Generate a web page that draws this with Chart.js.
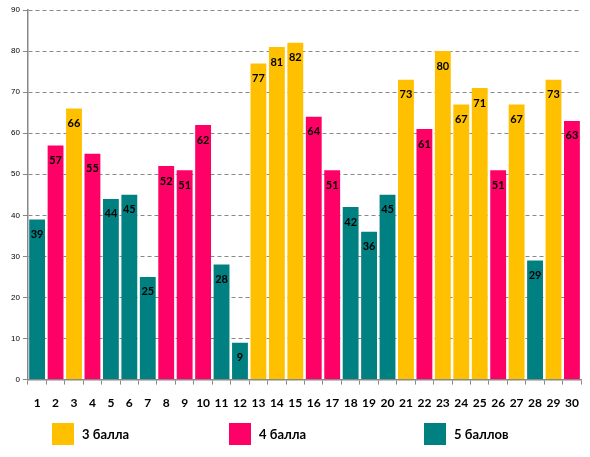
<!DOCTYPE html>
<html>
<head>
<meta charset="utf-8">
<script src="https://cdn.jsdelivr.net/npm/chart.js@4"></script>
<style>
  body { margin: 0; background: #fff; }
  #wrap { position: relative; width: 590px; height: 457px; }
  #legend { position: absolute; top: 423px; left: 0; width: 590px; height: 24px; font-family: Lato, "Liberation Sans", sans-serif; font-weight: bold; font-size: 13px; }
  .item { position: absolute; top: 0; display: flex; align-items: center; }
  .box { width: 22px; height: 22px; margin-right: 8px; }
</style>
</head>
<body>
<div id="wrap">
  <canvas id="chart" width="590" height="457"></canvas>
  <div id="legend"></div>
</div>
<script>
const labels = ['1','2','3','4','5','6','7','8','9','10','11','12','13','14','15',
                '16','17','18','19','20','21','22','23','24','25','26','27','28','29','30'];
const scores = [39, 57, 66, 55, 44, 45, 25, 52, 51, 62, 28, 9, 77, 81, 82,
                64, 51, 42, 36, 45, 73, 61, 80, 67, 71, 51, 67, 29, 73, 63];
// mark received by each student: 3, 4 or 5
const marks = [5, 4, 3, 4, 5, 5, 5, 4, 4, 4, 5, 5, 3, 3, 3,
               4, 4, 5, 5, 5, 3, 4, 3, 3, 3, 4, 3, 5, 3, 4];
const groupNames = ['3 балла', '4 балла', '5 баллов'];
const groupMarks = [3, 4, 5];
const groupColors = ['#FFC000', '#FF0066', '#008080'];

const datasets = groupMarks.map((m, i) => ({
    label: groupNames[i],
    data: scores.map((v, j) => marks[j] === m ? v : null),
    backgroundColor: groupColors[i],
    categoryPercentage: 0.86,
    barPercentage: 1
}));

// value labels inside the top of each bar
const valueLabels = {
    id: 'valueLabels',
    afterDatasetsDraw(chart) {
        const ctx = chart.ctx;
        ctx.save();
        ctx.font = 'bold 11px Lato, "Liberation Sans", sans-serif';
        ctx.fillStyle = '#000';
        ctx.textAlign = 'center';
        ctx.textBaseline = 'middle';
        chart.data.datasets.forEach((ds, i) => {
            chart.getDatasetMeta(i).data.forEach((bar, j) => {
                if (ds.data[j] == null) return;
                ctx.fillText(ds.data[j], bar.x, bar.y + 15);
            });
        });
        ctx.restore();
    }
};

new Chart(document.getElementById('chart'), {
    type: 'bar',
    data: { labels: labels, datasets: datasets },
    options: {
        responsive: false,
        animation: false,
        layout: { padding: { left: 8, top: 10, right: 6, bottom: 36 } },
        plugins: {
            legend: { display: false },
            tooltip: { enabled: false }
        },
        scales: {
            x: {
                stacked: true,
                grid: { drawOnChartArea: false, color: '#888', tickLength: 5 },
                border: { color: '#888', width: 1.5 },
                ticks: {
                    color: '#000',
                    padding: 11,
                    font: { family: 'Lato, "Liberation Sans", sans-serif', size: 12, weight: 'bold' },
                    maxRotation: 0,
                    autoSkip: false
                }
            },
            y: {
                stacked: true,
                min: 0,
                max: 90,
                grid: { color: '#888', tickLength: 5 },
                border: { color: '#888', width: 1.5, dash: [4, 3] },
                ticks: {
                    stepSize: 10,
                    color: '#000',
                    padding: 3,
                    font: { family: '"Liberation Sans", sans-serif', size: 8 }
                }
            }
        }
    },
    plugins: [valueLabels]
});

// legend under the chart
const legendLeft = [52, 229, 424];
const legend = document.getElementById('legend');
groupNames.forEach((name, i) => {
    const item = document.createElement('div');
    item.className = 'item';
    item.style.left = legendLeft[i] + 'px';
    item.innerHTML = `<div class="box" style="background:${groupColors[i]}"></div><span>${name}</span>`;
    legend.appendChild(item);
});
</script>
</body>
</html>
